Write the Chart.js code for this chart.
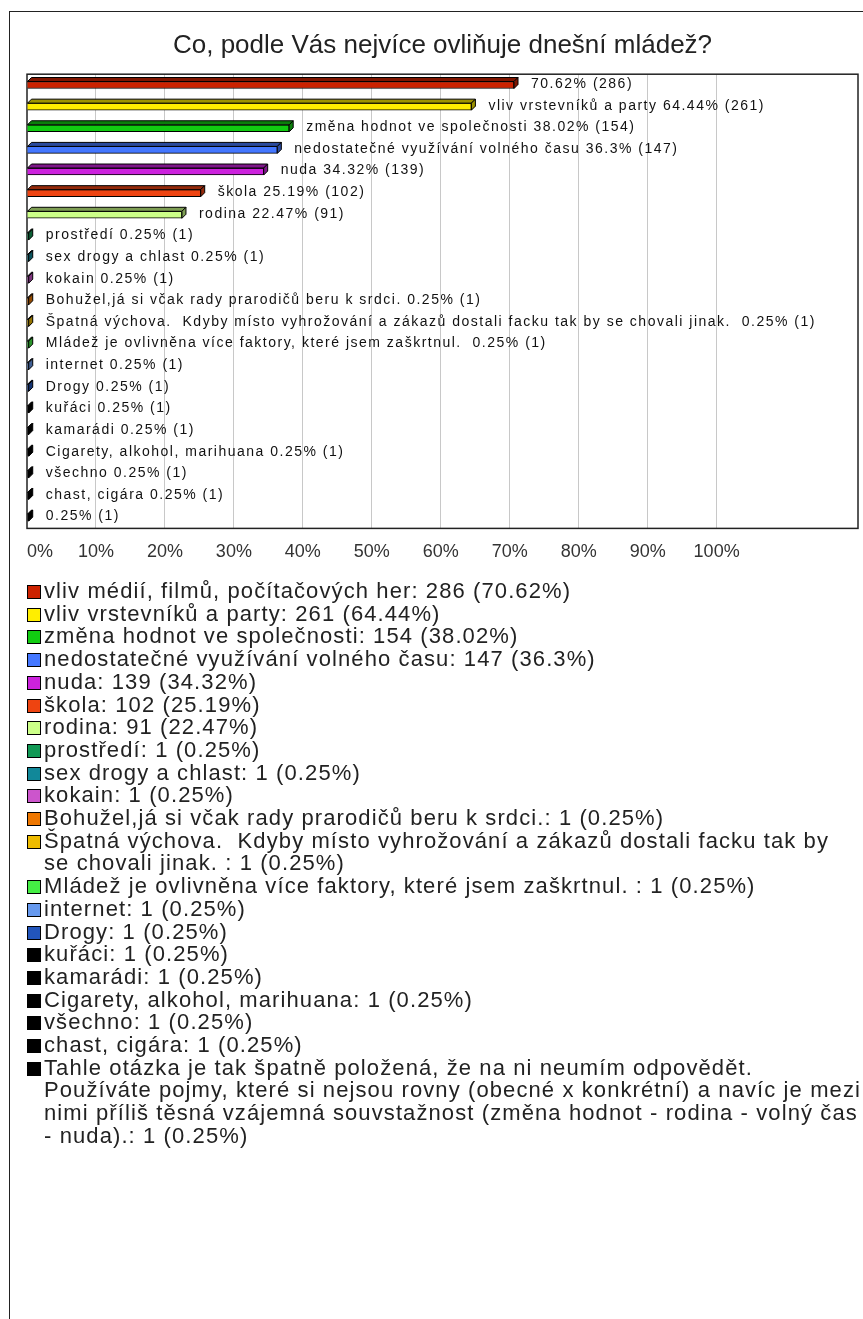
<!DOCTYPE html>
<html>
<head>
<meta charset="utf-8">
<script src="https://cdn.jsdelivr.net/npm/chart.js@4.4.1/dist/chart.umd.min.js"></script>
<style>
  body { margin: 0; background: #fff; overflow: hidden; }
  #frame { position: absolute; left: 9px; top: 11px; width: 900px; height: 1400px; border: 1px solid #222; }
  #chart { position: absolute; left: 0; top: 0; }
  #legend { position: absolute; left: 27px; top: 580px; }
  #legend .item { display: flex; align-items: flex-start; font: 22px 'Liberation Sans', Arial, sans-serif;
    line-height: 22.7px; letter-spacing: 1.1px; color: #222; }
  #legend .box { flex: none; width: 12px; height: 12px; border: 1px solid #000; margin: 5px 3px 0 0; }
  #legend .txt { white-space: pre; }
</style>
</head>
<body>
<div id="frame"></div>
<canvas id="chart" width="863" height="588"></canvas>
<div id="legend"></div>
<script>
// odpovědi a počty (\n = zalomení řádku v legendě)
const odpovedi = [
  "vliv médií, filmů, počítačových her",
  "vliv vrstevníků a party",
  "změna hodnot ve společnosti",
  "nedostatečné využívání volného času",
  "nuda",
  "škola",
  "rodina",
  "prostředí",
  "sex drogy a chlast",
  "kokain",
  "Bohužel,já si včak rady prarodičů beru k srdci.",
  "Špatná výchova.  Kdyby místo vyhrožování a zákazů dostali facku tak by\nse chovali jinak. ",
  "Mládež je ovlivněna více faktory, které jsem zaškrtnul. ",
  "internet",
  "Drogy",
  "kuřáci",
  "kamarádi",
  "Cigarety, alkohol, marihuana",
  "všechno",
  "chast, cigára",
  "Tahle otázka je tak špatně položená, že na ni neumím odpovědět.\nPoužíváte pojmy, které si nejsou rovny (obecné x konkrétní) a navíc je mezi\nnimi příliš těsná vzájemná souvstažnost (změna hodnot - rodina - volný čas\n- nuda)."
];
const pocty = [286, 261, 154, 147, 139, 102, 91, 1, 1, 1, 1, 1, 1, 1, 1, 1, 1, 1, 1, 1, 1];
const procenta = [70.62, 64.44, 38.02, 36.3, 34.32, 25.19, 22.47, 0.25, 0.25, 0.25, 0.25, 0.25, 0.25, 0.25, 0.25, 0.25, 0.25, 0.25, 0.25, 0.25, 0.25];
const osaX = [0, 10, 20, 30, 40, 50, 60, 70, 80, 90, 100];

const barvy = ['#cc2200', '#ffee00', '#11cc11', '#4477ff', '#cc22dd', '#ee4411', '#ccff88',
  '#119955', '#118899', '#cc55cc', '#ee7700', '#eebb00', '#44ee44', '#6699ee', '#2255bb',
  '#000000', '#000000', '#000000', '#000000', '#000000', '#000000'];

const pismo = "'Liberation Sans', Arial, sans-serif";
Chart.defaults.font.family = pismo;

// tmavší odstín pro horní a boční stěnu sloupce
function ztmavit(hex, k) {
  const n = parseInt(hex.slice(1), 16);
  const r = Math.round(((n >> 16) & 255) * k);
  const g = Math.round(((n >> 8) & 255) * k);
  const b = Math.round((n & 255) * k);
  return 'rgb(' + r + ',' + g + ',' + b + ')';
}

// rámeček kolem grafu
const ramecek = {
  id: 'ramecek',
  beforeDatasetsDraw(chart) {
    const a = chart.chartArea, ctx = chart.ctx;
    ctx.save();
    ctx.strokeStyle = '#222';
    ctx.lineWidth = 1.5;
    ctx.strokeRect(a.left, a.top, a.right - a.left, a.bottom - a.top);
    ctx.restore();
  }
};

// 3D stěny sloupců a popisky vedle nich
const sloupce3d = {
  id: 'sloupce3d',
  afterDatasetsDraw(chart) {
    const ctx = chart.ctx;
    const d = 4;
    const meta = chart.getDatasetMeta(0);
    ctx.save();
    meta.data.forEach((el, i) => {
      const top = el.y - el.height / 2, bottom = el.y + el.height / 2;
      const x = el.x, base = el.base;
      ctx.fillStyle = ztmavit(barvy[i], 0.62);
      ctx.strokeStyle = '#000';
      ctx.lineWidth = 1;
      // horní stěna
      ctx.beginPath();
      ctx.moveTo(base, top);
      ctx.lineTo(base + d, top - d);
      ctx.lineTo(x + d, top - d);
      ctx.lineTo(x, top);
      ctx.closePath();
      ctx.fill();
      ctx.stroke();
      // boční stěna
      ctx.beginPath();
      ctx.moveTo(x, top);
      ctx.lineTo(x + d, top - d);
      ctx.lineTo(x + d, bottom - d);
      ctx.lineTo(x, bottom);
      ctx.closePath();
      ctx.fill();
      ctx.stroke();

      // popisek: název se vynechá, když se nevejde do grafu
      ctx.font = '14px ' + pismo;
      ctx.letterSpacing = '1.5px';
      ctx.fillStyle = '#111';
      ctx.textBaseline = 'middle';
      const hodnota = procenta[i] + '% (' + pocty[i] + ')';
      let text = odpovedi[i].replace(/\n/g, ' ') + ' ' + hodnota;
      const lx = x + 17;
      if (lx + ctx.measureText(text).width > chart.chartArea.right) text = hodnota;
      ctx.fillText(text, lx, el.y - 1);
    });
    ctx.restore();
  }
};

const data_graf = {
  labels: odpovedi,
  datasets: [{
    data: procenta,
    backgroundColor: barvy,
    borderColor: '#000',
    borderWidth: 1,
    barThickness: 7
  }]
};

const config_graf = {
  type: 'bar',
  data: data_graf,
  options: {
    indexAxis: 'y',
    responsive: false,
    animation: false,
    layout: { padding: { left: 27, right: 5, top: 0, bottom: 22 } },
    plugins: {
      legend: { display: false },
      tooltip: { enabled: false },
      title: {
        display: true,
        text: 'Co, podle Vás nejvíce ovliňuje dnešní mládež?',
        color: '#222',
        font: { size: 26, weight: 'normal' },
        padding: { top: 30, bottom: 13 }
      }
    },
    scales: {
      x: {
        min: 0,
        max: 120.5,
        // popisky jen do 100 %, osa pokračuje až k okraji grafu
        afterBuildTicks: (axis) => {
          axis.ticks = osaX.map(v => ({ value: v })).concat([{ value: axis.max }]);
        },
        ticks: {
          padding: 3,
          align: 'inner',
          autoSkip: false,
          maxRotation: 0,
          color: '#333',
          font: { size: 18 },
          callback: (v) => (v <= 100 ? v + '%' : '')
        },
        grid: {
          drawTicks: true,
          tickLength: 10,
          tickColor: 'rgba(0,0,0,0)',
          color: (c) => (c.tick && c.tick.value > 0 && c.tick.value <= 100 ? '#c8c8c8' : 'rgba(0,0,0,0)'),
          lineWidth: 1
        },
        border: { display: false }
      },
      y: { display: false }
    }
  },
  plugins: [ramecek, sloupce3d]
};

const graf = new Chart(document.getElementById('chart'), config_graf);

// legenda pod grafem
const legenda = document.getElementById('legend');
odpovedi.forEach((n, i) => {
  const item = document.createElement('div');
  item.className = 'item';
  const box = document.createElement('span');
  box.className = 'box';
  box.style.background = barvy[i];
  const txt = document.createElement('span');
  txt.className = 'txt';
  txt.textContent = n + ': ' + pocty[i] + ' (' + procenta[i] + '%)';
  item.appendChild(box);
  item.appendChild(txt);
  legenda.appendChild(item);
});
</script>
</body>
</html>
